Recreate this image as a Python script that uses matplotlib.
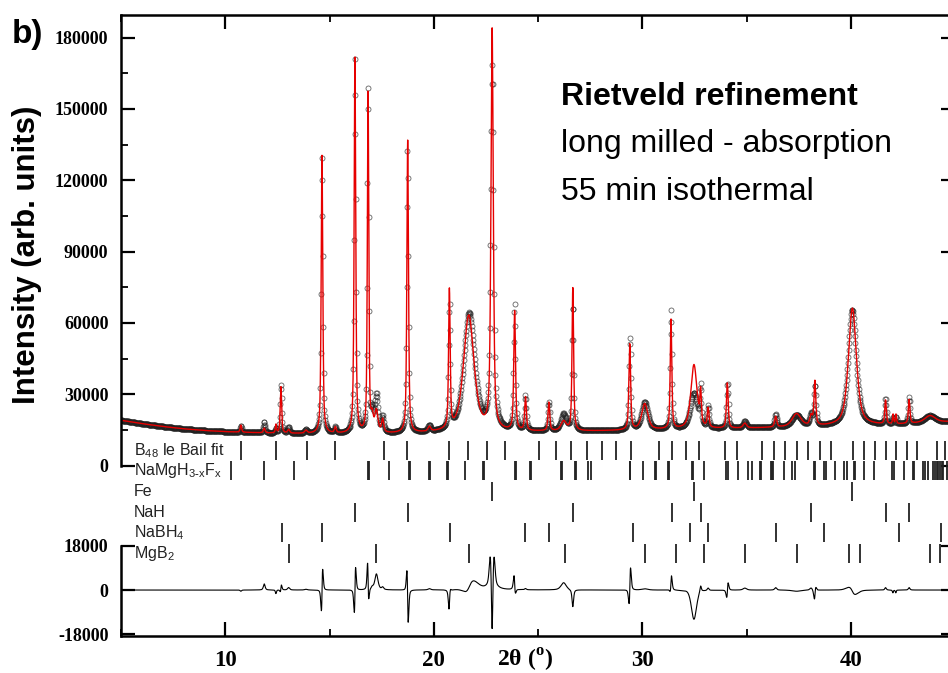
import matplotlib
matplotlib.use('Agg')
import matplotlib.pyplot as plt
from matplotlib.ticker import MultipleLocator
import numpy as np

plt.rcParams['mathtext.fontset'] = 'custom'
plt.rcParams['mathtext.rm'] = 'Liberation Serif:bold'
plt.rcParams['mathtext.sf'] = 'Liberation Sans'

bg_x = [5, 6, 7, 8, 9, 10, 12, 14, 16, 18, 20, 22, 24, 26, 28, 30, 32, 34, 36, 38, 40, 42, 45]
bg_y = [19000, 17600, 16400, 15400, 14700, 14200, 13600, 13300, 13200, 13300, 13600, 13900, 14100, 14300,
        14500, 14800, 15100, 15400, 15800, 16200, 16600, 17000, 18500]

# reflections read from the red (calc) and circle (obs) curves
peak_pos = [10.75, 11.87, 12.43, 12.67, 13.04, 13.87, 14.64, 15.28, 16.22, 16.85, 17.05, 17.25, 17.55,
            18.75, 19.79, 20.75, 21.68, 22.80, 23.88, 24.40, 25.52, 26.23, 26.67, 29.40, 30.12, 31.38,
            32.48, 32.80, 33.16, 34.08, 34.92, 36.40, 37.40, 38.10, 38.28, 40.08, 41.67, 42.03, 42.17,
            42.80, 43.80]
calc_height = [3000, 2000, 3500, 19500, 1500, 1200, 117000, 2500, 158000, 143000, 6000, 9000, 5500,
               123000, 2000, 58000, 49000, 168000, 50000, 14000, 12000, 4000, 60000, 36000, 11000, 46000,
               27000, 13000, 8000, 19000, 2000, 4500, 5500, 4000, 18500, 49500, 10000, 4000, 4000,
               10000, 3000]
obs_height = [2500, 4500, 2000, 20500, 2500, 1500, 117000, 2500, 158000, 148000, 7000, 15500, 6500,
              119000, 2500, 52000, 50000, 152000, 53000, 14500, 12000, 7000, 53000, 38500, 11500, 50000,
              15000, 15500, 9000, 19000, 2800, 5500, 5000, 5000, 16500, 49000, 11000, 3000, 3000,
              11000, 3000]
peak_fwhm = [0.08, 0.10, 0.06, 0.08, 0.12, 0.15, 0.09, 0.10, 0.09, 0.08, 0.12, 0.18, 0.12,
             0.09, 0.15, 0.09, 0.60, 0.13, 0.10, 0.10, 0.10, 0.30, 0.09, 0.10, 0.35, 0.09,
             0.35, 0.08, 0.10, 0.10, 0.20, 0.12, 0.50, 0.15, 0.10, 0.45, 0.09, 0.06, 0.06,
             0.09, 0.60]
obs_fwhm = [0.08, 0.10, 0.06, 0.08, 0.12, 0.15, 0.09, 0.10, 0.09, 0.08, 0.12, 0.18, 0.12,
            0.09, 0.15, 0.09, 0.62, 0.16, 0.10, 0.10, 0.10, 0.30, 0.09, 0.10, 0.35, 0.09,
            0.42, 0.08, 0.10, 0.10, 0.20, 0.12, 0.50, 0.15, 0.10, 0.45, 0.09, 0.06, 0.06,
            0.09, 0.60]
obs_shift = [0, 0, 0, 0.004, 0, 0, 0.005, 0, 0.004, -0.003, 0, 0, 0,
             -0.006, 0, 0.004, 0.02, 0, -0.005, 0, 0, 0, 0, 0.015, 0, 0.004,
             0, 0, 0, 0.012, 0, 0, 0, 0, 0.01, -0.01, 0, 0.004, 0.004,
             0, 0]

# phase reflection markers
phase_names = [r'B$_{\mathsf{48}}$ le Bail fit', r'NaMgH$_{\mathsf{3\text{-}x}}$F$_{\mathsf{x}}$', 'Fe', 'NaH',
               r'NaBH$_{\mathsf{4}}$', r'MgB$_{\mathsf{2}}$']
b48_pos = [10.75, 12.45, 13.92, 15.24, 17.63, 18.71, 20.72, 21.65, 22.54, 23.41, 25.04, 25.84, 26.60, 27.34,
           28.06, 28.75, 29.44, 30.80, 31.44, 32.09, 32.72, 33.96, 34.55, 35.72, 36.30, 36.87, 37.41, 37.97,
           38.52, 39.04, 40.10, 40.62, 41.15, 41.68, 42.18, 42.69, 43.17, 44.16, 44.54]
namg_pos = [10.29, 11.87, 13.28, 16.85, 16.89, 17.84, 18.83, 18.87, 19.77, 19.81, 20.65, 20.69, 21.52,
            22.35, 22.39, 23.90, 23.94, 24.64, 24.68, 26.09, 26.13, 26.78, 26.82, 27.39, 27.52, 29.39,
            29.43, 30.04, 30.62, 30.66, 31.23, 31.27, 32.38, 32.42, 32.98, 34.00, 34.13, 34.59, 35.08,
            35.24, 35.66, 35.70, 36.19, 36.23, 36.27, 36.79, 37.20, 37.35, 38.26, 38.30, 38.71, 38.82,
            39.24, 39.67, 39.80, 40.14, 40.18, 40.64, 41.12, 41.96, 42.08, 42.56, 42.98, 43.02, 43.45,
            43.57, 43.69, 43.96, 44.04, 44.12, 44.20, 44.28, 44.36, 44.44, 44.60, 44.75, 44.90]
fe_pos = [22.81, 32.47, 40.08]
nah_pos = [16.23, 18.78, 26.67, 31.41, 32.82, 38.08, 41.67, 42.79]
nabh4_pos = [12.70, 14.64, 20.79, 24.40, 25.52, 29.58, 32.30, 33.15, 36.40, 38.71, 42.31, 44.34]
mgb2_pos = [13.07, 17.25, 21.70, 26.31, 30.12, 31.63, 32.97, 34.95, 37.43, 39.94, 40.42, 43.82, 44.26]
phase_pos = [b48_pos, namg_pos, fe_pos, nah_pos, nabh4_pos, mgb2_pos]

top_ticks = [0, 30000, 60000, 90000, 120000, 150000, 180000]
diff_ticks = [-18000, 0, 18000]
x_ticks = [10, 20, 30, 40]


def pseudo_voigt(x, x0, h, w, eta=0.6):
    d = (x - x0) / w
    return h * (eta / (1 + 4 * d ** 2) + (1 - eta) * np.exp(-4 * np.log(2) * d ** 2))


tt = np.arange(5, 45, 0.01)
bg = np.interp(tt, bg_x, bg_y)
calc = bg.copy()
obs = bg.copy()
for p, hc, ho, wc, wo, s in zip(peak_pos, calc_height, obs_height, peak_fwhm, obs_fwhm, obs_shift):
    calc += pseudo_voigt(tt, p, hc, wc)
    obs += pseudo_voigt(tt, p + s, ho, wo)
diff = obs - calc

W, H = 948, 673
fig = plt.figure(figsize=(W / 100, H / 100), dpi=100)


def box(x0, y0, x1, y1):
    return [x0 / W, 1 - y1 / H, (x1 - x0) / W, (y1 - y0) / H]


serif = dict(family='Liberation Serif', weight='bold')
ax = fig.add_axes(box(121, 15, 955, 465.5))
axd = fig.add_axes(box(121, 546, 955, 636))
axp = fig.add_axes(box(121, 440, 955, 563.6))

ax.plot(tt[::2], obs[::2], 'o', ms=3.6, mfc='none', mec='#222222', mew=0.6, alpha=0.7)
ax.plot(tt, calc, '-', color='#e60000', lw=1.0)
ax.set_xlim(5, 45)
ax.set_ylim(0, 189500)
ax.spines['bottom'].set_visible(False)
ax.xaxis.tick_top()
ax.xaxis.set_major_locator(MultipleLocator(10))
ax.xaxis.set_minor_locator(MultipleLocator(5))
ax.tick_params(axis='x', which='both', labeltop=False, labelbottom=False)
ax.set_yticks(top_ticks)
ax.set_yticklabels([str(v) for v in top_ticks], fontdict=serif, fontsize=13)
ax.yaxis.set_minor_locator(MultipleLocator(15000))
ax.tick_params(axis='y', which='both', right=True)

axd.plot(tt, diff, '-', color='black', lw=0.8)
axd.set_xlim(5, 45)
axd.set_ylim(-18800, 18000)
axd.spines['top'].set_visible(False)
axd.set_xticks(x_ticks)
axd.set_xticklabels([str(v) for v in x_ticks], fontdict=serif, fontsize=16.5)
axd.xaxis.set_minor_locator(MultipleLocator(5))
axd.set_yticks(diff_ticks)
axd.set_yticklabels([str(v) for v in diff_ticks], fontdict=serif, fontsize=13)
axd.tick_params(axis='y', which='both', right=True)
axd.tick_params(axis='x', pad=10)

for a in (ax, axd):
    for sp in a.spines.values():
        sp.set_linewidth(1.8)
    a.patch.set_alpha(0)
    a.tick_params(which='major', direction='in', length=10, width=1.6)
    a.tick_params(which='minor', direction='in', length=5, width=1.3)
    a.tick_params(axis='y', pad=9)

for i, (name, pos) in enumerate(zip(phase_names, phase_pos)):
    axp.vlines(pos, i - 0.46, i + 0.46, color='#222222', lw=1.3)
    axp.text(5.6, i, name, family='Liberation Sans', fontsize=11.5, va='center', ha='left',
             color='#222222')
axp.set_xlim(5, 45)
axp.set_ylim(5.5, -0.5)
axp.axis('off')

fig.text(12 / W, 1 - 35 / H, 'b)', family='Liberation Sans', weight='bold', fontsize=24, va='center')
fig.text(27 / W, 1 - 255 / H, 'Intensity (arb. units)', family='Liberation Sans', weight='bold',
         fontsize=22.5, rotation=90, ha='center', va='center')
fig.text(525 / W, 1 - 667 / H, r'2θ ($^{\mathrm{o}}$)', fontdict=serif, fontsize=17,
         ha='center', va='baseline')
fig.text(561 / W, 1 - 105 / H, 'Rietveld refinement', family='Liberation Sans', weight='bold',
         fontsize=23, va='baseline')
fig.text(561 / W, 1 - 152 / H, 'long milled - absorption', family='Liberation Sans', fontsize=23,
         va='baseline')
fig.text(561 / W, 1 - 200 / H, '55 min isothermal', family='Liberation Sans', fontsize=23,
         va='baseline')

fig.savefig('out.png', dpi=100)
